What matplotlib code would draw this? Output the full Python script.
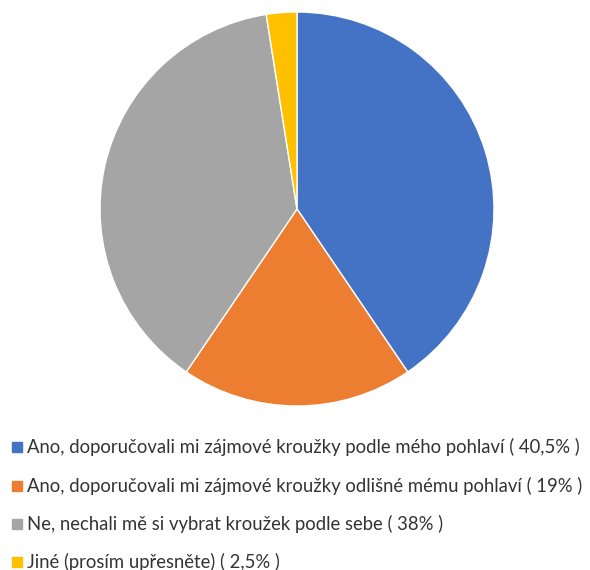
import matplotlib.pyplot as plt
from matplotlib.patches import Rectangle

labels = [
    "Ano, doporučovali mi zájmové kroužky podle mého pohlaví ( 40,5% )",
    "Ano, doporučovali mi zájmové kroužky odlišné mému pohlaví ( 19% )",
    "Ne, nechali mě si vybrat kroužek podle sebe ( 38% )",
    "Jiné (prosím upřesněte) ( 2,5% )",
]
values = [40.5, 19, 38, 2.5]
colors = ["#4472C4", "#ED7D31", "#A5A5A5", "#FFC000"]

W, H = 590, 570
fig = plt.figure(figsize=(W / 100, H / 100), dpi=100)

# pie centred at (297, 209) px from top, radius ~197 px
cx, cy, r = 297, 209, 197
ax = fig.add_axes([(cx - r) / W, (H - cy - r) / H, 2 * r / W, 2 * r / H])
ax.pie(values, colors=colors, startangle=90, counterclock=False,
       wedgeprops=dict(edgecolor="white", linewidth=1))
ax.set_xlim(-1, 1)
ax.set_ylim(-1, 1)
ax.set_aspect("equal")

# legend drawn by hand, one row per item
ys = [447, 486, 524, 562]
for lab, col, y in zip(labels, colors, ys):
    fig.patches.append(Rectangle((12 / W, (H - y - 5) / H), 10 / W, 10 / H,
                                 transform=fig.transFigure, color=col))
    fig.text(27 / W, (H - y) / H, lab, fontsize=13.35, family="Lato",
             color="#333333", va="center", ha="left")

fig.savefig("out.png", dpi=100)
